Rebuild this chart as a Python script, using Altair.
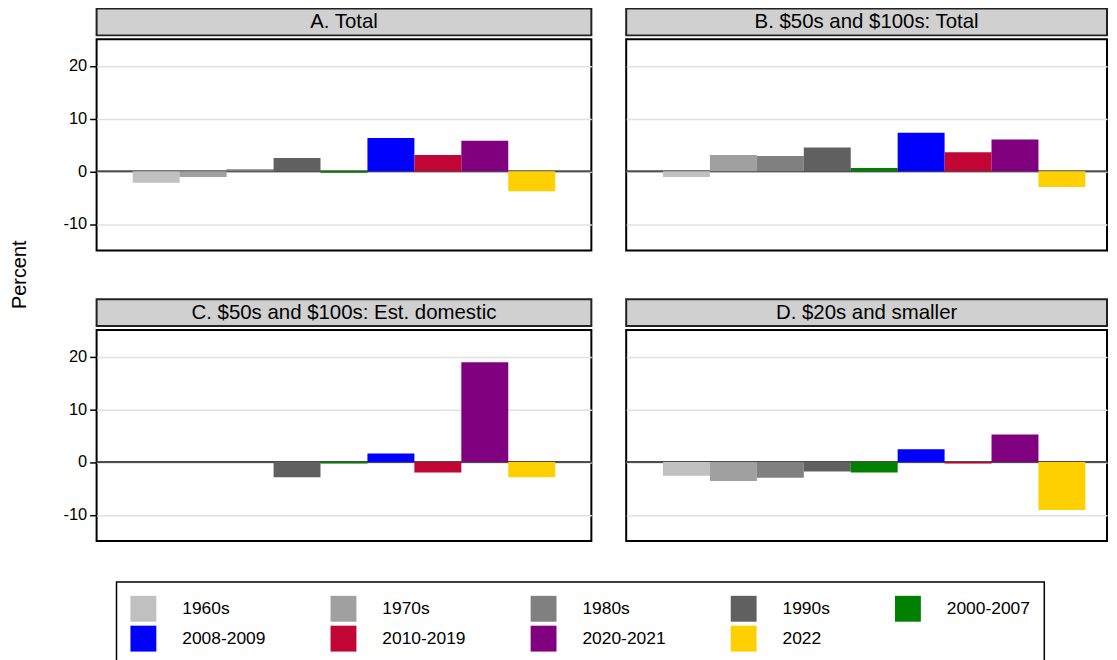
import altair as alt
import pandas as pd

FONT = "Liberation Sans"

categories = ["1960s", "1970s", "1980s", "1990s", "2000-2007",
              "2008-2009", "2010-2019", "2020-2021", "2022"]
colors = ["#c0c0c0", "#a0a0a0", "#808080", "#606060", "#008000",
          "#0000ff", "#c10535", "#800080", "#ffd000"]
panels = ["A. Total", "B. $50s and $100s: Total",
          "C. $50s and $100s: Est. domestic", "D. $20s and smaller"]
values_a = [-2.2, -1.1, 0.4, 2.5, -0.3, 6.3, 3.1, 5.8, -3.8]
values_b = [-1.1, 3.1, 2.9, 4.5, 0.6, 7.3, 3.6, 6.0, -3.0]
values_c = [None, None, None, -2.9, -0.3, 1.6, -2.0, 18.9, -2.9]
values_d = [-2.6, -3.6, -3.0, -1.8, -2.0, 2.4, -0.3, 5.2, -9.1]
all_values = [values_a, values_b, values_c, values_d]
y_ticks = [-10, 0, 10, 20]
y_domain = [-15, 25]

W_LEFT = 497
W_RIGHT = 483
H_PLOT = 212
H_HEAD = 27

legend = alt.Legend(
    title=None, orient="none", direction="horizontal", legendX=20, legendY=576,
    columns=5,
    symbolType="square", symbolSize=676, symbolStrokeWidth=0, symbolOpacity=1,
    labelFont=FONT, labelFontSize=17.5, labelColor="black", labelOffset=26,
    columnPadding=65, rowPadding=4, padding=14,
    strokeColor="black", fillColor="white", labelLimit=300,
)


def panel(i, show_axis, width, pad_outer, align):
    df = pd.DataFrame({"period": categories, "value": all_values[i]}).dropna()
    header = alt.Chart(pd.DataFrame({"panel": [panels[i]]})).mark_text(
        font=FONT, fontSize=20.5, color="black"
    ).encode(text="panel:N").properties(
        width=width, height=H_HEAD,
        view=alt.ViewBackground(fill="#d0d0d0", stroke="#222222", strokeWidth=2),
    )
    if show_axis:
        yaxis = alt.Axis(values=y_ticks, title=None, domain=False, ticks=True,
                         tickSize=7, tickColor="black", tickWidth=1.5,
                         labelFont=FONT, labelFontSize=16.5, labelColor="black",
                         labelExpr="'' + datum.value",
                         labelPadding=3, grid=True, gridColor="#e0e0e0",
                         gridWidth=1.5)
    else:
        yaxis = alt.Axis(values=y_ticks, title=None, domain=False, ticks=False,
                         labels=False, grid=True, gridColor="#e0e0e0",
                         gridWidth=1.5)
    bars = alt.Chart(df).mark_bar().encode(
        x=alt.X("period:N", sort=categories,
                scale=alt.Scale(domain=categories, paddingInner=0,
                                paddingOuter=pad_outer, align=align),
                axis=None),
        y=alt.Y("value:Q", scale=alt.Scale(domain=y_domain, nice=False, zero=False),
                axis=yaxis),
        color=alt.Color("period:N", scale=alt.Scale(domain=categories, range=colors),
                        legend=legend),
    )
    zero = alt.Chart(pd.DataFrame({"z": [0]})).mark_rule(
        color="#4d4d4d", strokeWidth=2
    ).encode(y=alt.datum(0))
    plot = alt.layer(zero, bars).properties(width=width, height=H_PLOT)
    return alt.vconcat(header, plot, spacing=2)


row1 = alt.hconcat(panel(0, True, W_LEFT, 0.77, 0.5),
                   panel(1, False, W_RIGHT, 0.6225, 0.63), spacing=31)
row2 = alt.hconcat(panel(2, True, W_LEFT, 0.77, 0.5),
                   panel(3, False, W_RIGHT, 0.6225, 0.63), spacing=31)

grid = alt.vconcat(row1, row2, spacing=47).properties(
    title=alt.TitleParams("Percent", orient="left", anchor="middle", font=FONT,
                          fontSize=20, fontWeight="normal", color="black",
                          offset=32),
)

chart = alt.vconcat(grid).properties(
    padding={"left": 2, "top": -2, "right": 0, "bottom": 0},
).configure_view(
    stroke="black", strokeWidth=2
).configure_legend(
    strokeWidth=1.5
)

chart.save("out.html", embed_options={"renderer": "svg", "actions": False})
